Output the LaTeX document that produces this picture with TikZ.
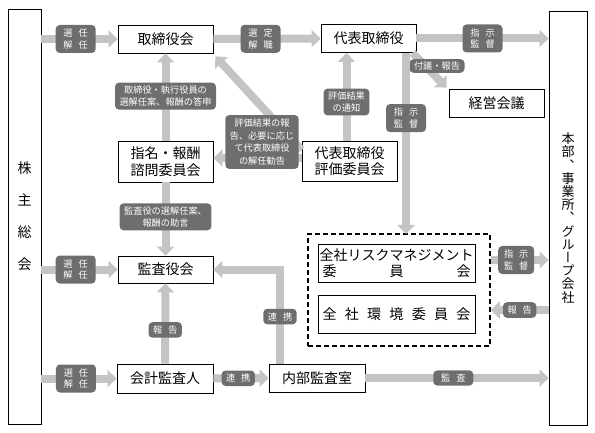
\documentclass[tikz,border=0pt]{standalone}
\usepackage{fontspec}
\setmainfont{Noto Sans CJK JP}
\newfontfamily\tatefont[RawFeature=+vert]{Noto Sans CJK JP}
\usetikzlibrary{arrows.meta}
\definecolor{arrowgray}{HTML}{C4C4C4}
\definecolor{labelgray}{HTML}{6E6E6E}
\tikzset{
	box/.style={draw,line width=0.8pt,fill=white,inner sep=0pt,align=center,minimum width=95pt,minimum height=28pt,font=\fontsize{14}{16.5}\selectfont},
	lbl/.style={fill=labelgray,text=white,rounded corners=4pt,inner xsep=4.5pt,inner ysep=3.5pt,align=center,font=\fontsize{9.2}{11.5}\selectfont},
	lblpair/.style={lbl,minimum width=40pt,minimum height=28pt},
	fat/.style={draw=arrowgray,line width=8pt,-{Triangle[width=17pt,length=9pt]}}
}
\newcommand{\lsp}{\hspace{6pt}}

\begin{document}
\begin{tikzpicture}[x=1pt,y=-1pt]
	\useasboundingbox (0,0) rectangle (595,433);
		%boxes
			\node[box,minimum width=33pt,minimum height=415pt,font=\fontsize{14}{32}\selectfont] (kabunushi) at (24.5,216.5) {株\\主\\総\\会};
			\node[box,minimum width=38pt,minimum height=414pt,font=\tatefont\fontsize{13}{13.2}\selectfont] (honbu) at (568,218) {本\\部\\、\\事\\業\\所\\、\\グ\\ル\\ー\\プ\\会\\社};
			\node[box] (torishimari) at (165.5,39) {取締役会};
			\node[box] (daihyo) at (368.5,38.5) {代表取締役};
			\node[box] (keiei) at (496.5,103) {経営会議};
			\node[box,minimum height=41pt] (shimei) at (165.5,161.5) {指名・報酬\\諮問委員会};
			\node[box,minimum height=40pt] (hyoka) at (349.5,161) {代表取締役\\評価委員会};
			\node[box,minimum height=27pt] (kansayaku) at (165.5,269.5) {監査役会};
			\node[box,minimum width=96pt,minimum height=29pt] (kaikei) at (165,378.5) {会計監査人};
			\node[box,minimum width=96pt] (naibu) at (317,378) {内部監査室};
			\node[draw,line width=1.6pt,dash pattern=on 5pt off 3pt,minimum width=182pt,minimum height=112pt] (zensha) at (399,290) {};
			\node[box,minimum width=157pt,minimum height=38pt] (risk) at (396.5,263) {全社リスクマネジメント\\\hbox to 148pt{委\hfil 員\hfil 会}};
			\node[box,minimum width=157pt,minimum height=38pt] (kankyo) at (396.5,314) {\hbox to 148pt{全\hfil 社\hfil 環\hfil 境\hfil 委\hfil 員\hfil 会}};
			\coordinate (shiji) at (406,234);
		%arrows + labels
			\draw[fat] (torishimari.west -| kabunushi.east) -- node[lblpair,pos=.45] (l1) {選\lsp 任\\解\lsp 任} (torishimari.west);
			\draw[fat] (torishimari.east) -- node[lblpair,pos=.44] (l2) {選\lsp 定\\解\lsp 職} (daihyo.west);
			\draw[fat] (daihyo.east) -- node[lblpair] (l3) {指\lsp 示\\監\lsp 督} (daihyo.east -| honbu.west);
			\draw[fat] ([xshift=-4pt]daihyo.south east) -- ([xshift=-2pt,yshift=1pt]keiei.north west);
			\node[lbl,inner ysep=2.5pt] (l4) at (437,66) {付議・報告};
			\draw[fat] (daihyo.south -| shiji) -- node[lblpair,pos=.36] (l5) {指\lsp 示\\監\lsp 督} (shiji);
			\draw[fat] ([xshift=-3pt]hyoka.north) -- node[lbl,pos=.44] (l6) {評価結果\\の通知} ([xshift=-3pt]hyoka.north |- daihyo.south);
			\draw[fat] ([yshift=11pt]hyoka.west) -- ([xshift=2pt,yshift=-3pt]torishimari.south east);
			\draw[fat] ([yshift=3pt]hyoka.west) -- ([yshift=3pt]hyoka.west -| shimei.east);
			\node[lbl,font=\fontsize{9.2}{12.8}\selectfont] (l7) at (262,142) {評価結果の報\\告、必要に応じ\\て代表取締役\\の解任勧告};
			\draw[fat] (shimei.north) -- node[lbl,pos=.51] (l8) {取締役・執行役員の\\選解任案、報酬の答申} (torishimari.south);
			\draw[fat] (shimei.south) -- node[lbl,pos=.47] (l9) {監査役の選解任案、\\報酬の助言} (kansayaku.north);
			\draw[fat] (kansayaku.west -| kabunushi.east) -- node[lblpair,pos=.45] (l10) {選\lsp 任\\解\lsp 任} (kansayaku.west);
			\draw[fat] (kaikei.north) -- node[lbl,pos=.42] (l11) {報\lsp 告} (kansayaku.south);
			\draw[fat] ([xshift=-37pt]naibu.north) |- node[lbl,pos=.25] (l12) {連\lsp 携} (kansayaku.east);
			\draw[fat] (kaikei.west -| kabunushi.east) -- node[lblpair,pos=.46] (l13) {選\lsp 任\\解\lsp 任} (kaikei.west);
			\draw[fat] (kaikei.east) -- node[lbl,pos=.45] (l14) {連\lsp 携} (naibu.west);
			\draw[fat] (naibu.east) -- node[lbl,pos=.48,minimum width=40pt] (l15) {監\lsp 査} (naibu.east -| honbu.west);
			\draw[fat] ([yshift=3pt]risk.east -| zensha.east) -- node[lblpair,minimum width=36pt,pos=.44] (l16) {指\lsp 示\\監\lsp 督} ([yshift=3pt]risk.east -| honbu.west);
			\draw[fat] ([yshift=4pt]kankyo.east -| honbu.west) -- node[lbl,pos=.5] (l17) {報\lsp 告} ([yshift=4pt]kankyo.east -| zensha.east);
\end{tikzpicture}
\end{document}
